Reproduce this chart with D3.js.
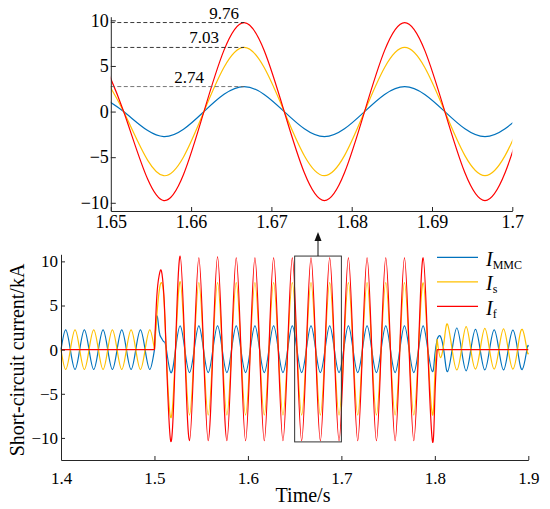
<!DOCTYPE html>
<html>
<head>
<meta charset="utf-8">
<script src="https://cdn.jsdelivr.net/npm/d3@7"></script>
<style>
body{margin:0;background:#fff}
</style>
</head>
<body>
<svg id="chart" width="550" height="509"></svg>
<script>
/*
data: key instants (extrema and zero crossings) and the
current at each of them, kA
*/
const tMain = [
  1.400,1.405,1.410,1.415,1.420,1.425,1.430,1.435,1.440,1.445,1.450,1.455,1.460,1.465,1.470,1.475,1.480,1.485,1.490,1.495,1.500,
  1.5025,1.5050,1.5075,1.5100,1.5125,
  1.5175,1.5225,1.5275,1.5325,1.5375,1.5425,1.5475,1.5525,1.5575,1.5625,
  1.5675,1.5725,1.5775,1.5825,1.5875,1.5925,1.5975,1.6025,1.6075,1.6125,
  1.6175,1.6225,1.6275,1.6325,1.6375,1.6425,1.6475,1.6525,1.6575,1.6625,
  1.6675,1.6725,1.6775,1.6825,1.6875,1.6925,1.6975,1.7025,1.7075,1.7125,
  1.7175,1.7225,1.7275,1.7325,1.7375,1.7425,1.7475,1.7525,1.7575,1.7625,
  1.7675,1.7725,1.7775,1.7825,1.7875,1.7925,1.7975,
  1.8000,1.8025,1.8060,1.8100,
  1.8135,1.8185,1.8235,1.8285,1.8335,1.8385,1.8435,1.8485,1.8535,1.8585,
  1.8635,1.8685,1.8735,1.8785,1.8835,1.8885,1.8935,1.8985,1.9000
]
const iMMC = [
  0,2.25,0,-2.25, 0,2.25,0,-2.25, 0,2.25,0,-2.25, 0,2.25,0,-2.25, 0,2.25,0,-2.25, 0,
  3.8,2.1,1.3,0.9,0.2,
  -2.6,0,2.7,0, -2.6,0,2.7,0, -2.6,0,2.7,0, -2.6,0,2.7,0, -2.6,0,2.7,0,
  -2.6,0,2.7,0, -2.6,0,2.7,0, -2.6,0,2.7,0, -2.6,0,2.7,0, -2.6,0,2.7,0,
  -2.6,0,2.7,0, -2.6,0,2.7,0, -2.6,0,2.7,0, -2.6,0,2.7,0, -2.5,
  -0.6,1.2,1.5,-0.4,
  -2.5,0,2.45,0, -2.4,0,2.3,0, -2.3,0,2.25,0, -2.3,0,2.2,0, -2.25,0, 0.35
]
const iS = [
  0,-2.25,0,2.25, 0,-2.25,0,2.25, 0,-2.25,0,2.25, 0,-2.25,0,2.25, 0,-2.25,0,2.25, 0,
  3.8,6.6,7.6,6.0,0,
  -7.7,0,7.7,0, -7.4,0,7.6,0, -7.4,0,7.6,0, -7.4,0,7.6,0, -7.4,0,7.6,0,
  -7.4,0,7.6,0, -7.4,0,7.6,0, -7.4,0,7.6,0, -7.4,0,7.6,0, -7.4,0,7.6,0,
  -7.4,0,7.6,0, -7.4,0,7.6,0, -7.4,0,7.6,0, -7.4,0,7.6,0, -7.4,
  -2.7,1.2,-0.9,1.0,
  2.9,0,-2.3,0, 2.6,0,-2.2,0, 2.4,0,-2.2,0, 2.35,0,-2.2,0, 2.3,0, -0.35
]
const iF = [
  0,0,0,0, 0,0,0,0, 0,0,0,0, 0,0,0,0, 0,0,0,0, 0,
  6.0,8.4,8.9,6.3,0,
  -10.4,0,10.6,0, -10.3,0,10.4,0, -10.3,0,10.5,0, -10.3,0,10.4,0, -10.3,0,10.4,0,
  -10.3,0,10.4,0, -10.3,0,10.4,0, -10.3,0,10.4,0, -10.3,0,10.4,0, -10.3,0,10.4,0,
  -10.3,0,10.4,0, -10.3,0,10.4,0, -10.3,0,10.4,0, -10.3,0,10.4,0, -10.4,
  -5.5,0,0,0,
  0,0,0,0, 0,0,0,0, 0,0,0,0, 0,0,0,0, 0,0, 0
]
const stageEnds = [1.500, 1.8025]   // fault inception / clearing, s

// zoomed window 1.65-1.70 s (top panel), key points just past both edges
const tZoom = [1.6466,1.6516,1.6566,1.6616,1.6666,1.6716,1.6766,1.6816,1.6866,1.6916,1.6966,1.7016]
const zMMC = [2.74,0,-2.74,0,2.74,0,-2.74,0,2.74,0,-2.74,0]
const zS = [7.03,0,-7.03,0,7.03,0,-7.03,0,7.03,0,-7.03,0]
const zF = [9.76,0,-9.76,0,9.76,0,-9.76,0,9.76,0,-9.76,0]

const peakVals = [9.76, 7.03, 2.74]
const peakT = 1.6666
const zoomBox = [1.65, 1.70, -10.45, 10.6]   // t0, t1, low, high

const subs = ["MMC", "s", "f"]
const colors = ["#0072BD", "#FFC000", "#FF0000"]

const mainXTicks = [1.4, 1.5, 1.6, 1.7, 1.8, 1.9]
const mainYTicks = [-10, -5, 0, 5, 10]
const zoomXTicks = [1.65, 1.66, 1.67, 1.68, 1.69, 1.70]
const zoomYTicks = [-10, -5, 0, 5, 10]

/*
scales
*/
const svg = d3.select("#chart")
const axisColor = "#262626"
const serif = "'Liberation Serif', 'Times New Roman', 'DejaVu Serif', serif"

const xMain = d3.scaleLinear().domain([1.4, 1.9]).range([61, 528.3])
const yMain = d3.scaleLinear().domain([-12.5, 10.8]).range([460, 254.3])
const xZoom = d3.scaleLinear().domain([1.65, 1.70]).range([110.8, 512.3])
const yZoom = d3.scaleLinear().domain([-10.9, 10.4]).range([211, 16.7])

function splitStages(t, v, ends){ // break a record at the switching instants, sharing the break point
  let out = [], cur = []
  t.forEach(function(ti, i){
    cur.push([ti, v[i]])
    if(ends.some(e => Math.abs(e - ti) < 1e-9) && i < t.length - 1){
      out.push(cur)
      cur = [[ti, v[i]]]
    }
  })
  out.push(cur)
  return out
}

function drawSeries(g, x, y, parts, color){ // one waveform through its key points
  const line = d3.line()
    .x(d => x(d[0]))
    .y(d => y(d[1]))
    .curve(d3.curveNatural)
  g.append("path")
    .attr("d", parts.map(p => line(p)).join(""))
    .attr("fill", "none")
    .attr("stroke", color)
    .attr("stroke-width", 1.2)
}

function styleAxis(g, size){
  g.attr("font-family", null).attr("font-size", null)
  g.select(".domain").attr("stroke", axisColor)
  g.selectAll(".tick line").attr("stroke", axisColor)
  g.selectAll(".tick text")
    .attr("fill", "#000")
    .style("font-family", serif)
    .style("font-size", size + "px")
}

/*
top panel: zoomed window
*/
svg.append("clipPath").attr("id", "zoomClip")
  .append("rect")
    .attr("x", xZoom.range()[0]).attr("y", 0)
    .attr("width", xZoom.range()[1] - xZoom.range()[0]).attr("height", yZoom.range()[0])

const gz = svg.append("g")
const gzLines = gz.append("g").attr("clip-path", "url(#zoomClip)")
;[zMMC, zS, zF].forEach((v, i) => drawSeries(gzLines, xZoom, yZoom, splitStages(tZoom, v, []), colors[i]))

const labelShift = [20, 40, 55]
peakVals.forEach(function(v, i){
  gz.append("line")
    .attr("x1", xZoom(1.65)).attr("x2", xZoom(peakT))
    .attr("y1", yZoom(v)).attr("y2", yZoom(v))
    .attr("stroke", i == 2 ? "#666" : "#222")
    .attr("stroke-width", 0.9)
    .attr("stroke-dasharray", "4,2.5")
  gz.append("text")
    .attr("x", xZoom(peakT) - labelShift[i])
    .attr("y", yZoom(v) - 4)
    .attr("text-anchor", "middle")
    .style("font-family", serif)
    .style("font-size", "17px")
    .text(v.toFixed(2))
})

gz.append("g")
  .attr("transform", "translate(0," + yZoom.range()[0] + ")")
  .call(d3.axisBottom(xZoom).tickValues(zoomXTicks).tickFormat(d3.format(".2~f"))
    .tickSize(-4).tickSizeOuter(0).tickPadding(4))
  .call(styleAxis, 18)
gz.append("g")
  .attr("transform", "translate(" + xZoom.range()[0] + ",0)")
  .call(d3.axisLeft(yZoom).tickValues(zoomYTicks).tickFormat(d3.format("d"))
    .tickSize(-5).tickSizeOuter(0).tickPadding(2))
  .call(styleAxis, 18)

/*
bottom panel: whole record
*/
const gm = svg.append("g")
;[iMMC, iS, iF].forEach((v, i) => drawSeries(gm, xMain, yMain, splitStages(tMain, v, stageEnds), colors[i]))

gm.append("g")
  .attr("transform", "translate(0," + yMain.range()[0] + ")")
  .call(d3.axisBottom(xMain).tickValues(mainXTicks).tickFormat(d3.format(".1f"))
    .tickSize(-4).tickSizeOuter(0).tickPadding(12))
  .call(styleAxis, 17)
gm.append("g")
  .attr("transform", "translate(" + xMain.range()[0] + ",0)")
  .call(d3.axisLeft(yMain).tickValues(mainYTicks).tickFormat(d3.format("d"))
    .tickSize(-4).tickSizeOuter(0).tickPadding(3))
  .call(styleAxis, 17)

gm.append("text")
  .attr("x", 303).attr("y", 502)
  .attr("text-anchor", "middle")
  .style("font-family", serif)
  .style("font-size", "20px")
  .text("Time/s")
gm.append("text")
  .attr("transform", "translate(24,360) rotate(-90)")
  .attr("text-anchor", "middle")
  .style("font-family", serif)
  .style("font-size", "20px")
  .text("Short-circuit current/kA")

// zoom box and arrow up to the top panel
const bx0 = xMain(zoomBox[0]), bx1 = xMain(zoomBox[1])
const by0 = yMain(zoomBox[3]), by1 = yMain(zoomBox[2])
gm.append("rect")
  .attr("x", bx0).attr("y", by0)
  .attr("width", bx1 - bx0).attr("height", by1 - by0)
  .attr("fill", "none").attr("stroke", "#333").attr("stroke-width", 1)
const ax = (bx0 + bx1) / 2
gm.append("line")
  .attr("x1", ax).attr("x2", ax).attr("y1", by0).attr("y2", by0 - 16)
  .attr("stroke", "#111").attr("stroke-width", 1)
gm.append("path")
  .attr("d", "M" + (ax - 3.5) + "," + (by0 - 15) + "L" + ax + "," + (by0 - 24) + "L" + (ax + 3.5) + "," + (by0 - 15) + "Z")
  .attr("fill", "#111")

// legend
const legend = svg.append("g")
subs.forEach(function(s, i){
  const ly = 257.3 + i * 24.5
  legend.append("line")
    .attr("x1", 437).attr("x2", 478).attr("y1", ly).attr("y2", ly)
    .attr("stroke", colors[i]).attr("stroke-width", 1.2)
  const tx = legend.append("text")
    .attr("x", 486).attr("y", ly + 8.5)
    .style("font-family", serif)
    .style("font-size", "20px")
  tx.append("tspan").attr("font-style", "italic").text("I")
  tx.append("tspan").attr("dy", 3).style("font-size", "12px").text(s)
})
</script>
</body>
</html>
